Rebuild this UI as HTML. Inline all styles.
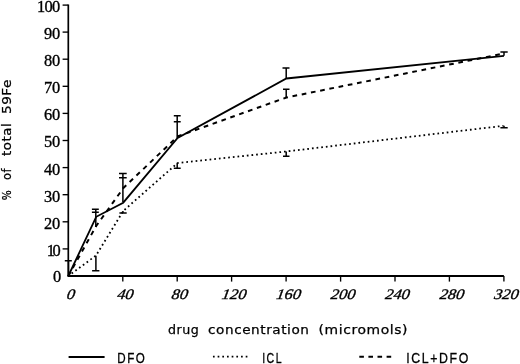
<!DOCTYPE html>
<html><head><meta charset="utf-8"><title>Chart</title>
<style>
html,body{margin:0;padding:0;background:#fff;}
body{width:520px;height:364px;overflow:hidden;}
svg{display:block;}
.ax{stroke:#000;stroke-width:1.8;fill:none;stroke-linejoin:round;}
.tk{stroke:#000;stroke-width:1.35;fill:none;}
.eb{stroke:#000;stroke-width:1.5;fill:none;}
.s{stroke:#000;stroke-width:1.8;fill:none;stroke-linejoin:miter;}
.d{stroke:#000;stroke-width:2;fill:none;stroke-dasharray:4.7 4.7;stroke-dashoffset:0.2;}
.o{stroke:#000;stroke-width:1.8;fill:none;stroke-dasharray:1.7 2.98;stroke-dashoffset:0.57;}
.yl{font-family:"Liberation Serif",serif;font-size:16.4px;fill:#000;stroke:#000;stroke-width:0.35px;}
.xl{font-family:"Liberation Serif",serif;font-style:italic;font-size:14.6px;fill:#000;stroke:#000;stroke-width:0.35px;}
.t{font-family:"DejaVu Sans","Liberation Sans",sans-serif;font-size:12.2px;letter-spacing:0.5px;fill:#000;stroke:#000;stroke-width:0.25px;}
.lg{font-family:"Liberation Sans",sans-serif;font-size:15.5px;letter-spacing:2px;fill:#000;stroke:#000;stroke-width:0.3px;}
</style></head><body>
<svg width="520" height="364" viewBox="0 0 520 364">
<path d="M68.3,4.45 V276.0" class="ax" style="stroke-width:1.7"/>
<path d="M67.45,276.0 H503.9" class="ax" style="stroke-width:2.0"/>
<path d="M62.6,248.9 H68.3" class="tk"/>
<path d="M62.6,221.8 H68.3" class="tk"/>
<path d="M62.6,194.7 H68.3" class="tk"/>
<path d="M62.6,167.6 H68.3" class="tk"/>
<path d="M62.6,140.5 H68.3" class="tk"/>
<path d="M62.6,113.4 H68.3" class="tk"/>
<path d="M62.6,86.3 H68.3" class="tk"/>
<path d="M62.6,59.2 H68.3" class="tk"/>
<path d="M62.6,32.1 H68.3" class="tk"/>
<path d="M62.6,5.1 H68.3" class="tk"/>
<path d="M122.8,276.0 V281.6" class="tk"/>
<path d="M177.2,276.0 V281.6" class="tk"/>
<path d="M231.6,276.0 V281.6" class="tk"/>
<path d="M286.1,276.0 V281.6" class="tk"/>
<path d="M340.6,276.0 V281.6" class="tk"/>
<path d="M395.0,276.0 V281.6" class="tk"/>
<path d="M449.4,276.0 V281.6" class="tk"/>
<path d="M503.9,276.0 V281.6" class="tk"/>
<text x="61.2" y="282.2" class="yl" text-anchor="end">0</text>
<text x="46.7" y="255.8" class="yl" textLength="13.9" lengthAdjust="spacing">10</text>
<text x="60.3" y="228.7" class="yl" text-anchor="end">20</text>
<text x="60.3" y="201.6" class="yl" text-anchor="end">30</text>
<text x="60.3" y="174.5" class="yl" text-anchor="end">40</text>
<text x="60.3" y="147.4" class="yl" text-anchor="end">50</text>
<text x="60.3" y="120.3" class="yl" text-anchor="end">60</text>
<text x="60.3" y="93.2" class="yl" text-anchor="end">70</text>
<text x="60.3" y="66.1" class="yl" text-anchor="end">80</text>
<text x="60.3" y="39.0" class="yl" text-anchor="end">90</text>
<text x="37.1" y="12.0" class="yl" textLength="23.2" lengthAdjust="spacing">100</text>
<text transform="translate(70.3,298.6) skewX(-9) scale(1.12,1)" class="xl" text-anchor="middle">0</text>
<text transform="translate(124.8,298.6) skewX(-9) scale(1.12,1)" class="xl" text-anchor="middle">40</text>
<text transform="translate(179.2,298.6) skewX(-9) scale(1.12,1)" class="xl" text-anchor="middle">80</text>
<text transform="translate(233.6,298.6) skewX(-9) scale(1.12,1)" class="xl" text-anchor="middle">120</text>
<text transform="translate(288.1,298.6) skewX(-9) scale(1.12,1)" class="xl" text-anchor="middle">160</text>
<text transform="translate(342.6,298.6) skewX(-9) scale(1.12,1)" class="xl" text-anchor="middle">200</text>
<text transform="translate(397.0,298.6) skewX(-9) scale(1.12,1)" class="xl" text-anchor="middle">240</text>
<text transform="translate(451.4,298.6) skewX(-9) scale(1.12,1)" class="xl" text-anchor="middle">280</text>
<text transform="translate(505.9,298.6) skewX(-9) scale(1.12,1)" class="xl" text-anchor="middle">320</text>
<polyline points="68.3,276.0 96.2,216.8 123.2,202.7 177.6,138.0 286.4,78.5 504.0,55.8" class="s"/>
<polyline points="68.3,276.0 96.2,226.0 123.4,188.0 177.6,136.4 286.4,97.5 504.0,53.5" class="d"/>
<polyline points="68.3,276.0 96.0,255.5 123.4,210.8 177.6,163.0 286.2,151.5 503.5,125.8" class="o"/>
<path d="M68.5,260.8 V275.5 M64.8,260.8 H71.8" class="eb"/>
<path d="M95.8,209.2 V227 M91.9,209.2 H98.8 M91.9,212.2 H98.8" class="eb"/>
<path d="M95.9,255.7 V270.7 M92.1,270.7 H99.4" class="eb"/>
<path d="M122.9,173.5 V202 M119,173.5 H126.7 M119,177.8 H126.7" class="eb"/>
<path d="M122.9,211 V213 M119.4,213 H126.7" class="eb"/>
<path d="M177.2,115.7 V138 M173.8,115.7 H180.7 M173.8,121.7 H180.7" class="eb"/>
<path d="M177.2,163 V168.3 M173.8,168.3 H180.7" class="eb"/>
<path d="M286.2,68.1 V78.5 M282.5,68.1 H289.5" class="eb"/>
<path d="M286.2,89.2 V97.7 M283,89.2 H289.5" class="eb"/>
<path d="M286.2,151.5 V156.3 M283,156.3 H289.5" class="eb"/>
<path d="M504,51.9 V55.8 M500.4,51.9 H507.7" class="eb"/>
<path d="M504,125.8 V127.8 M500.4,127.8 H507.7" class="eb"/>
<text x="167.90" y="333.8" class="t" textLength="31.30" lengthAdjust="spacingAndGlyphs">drug</text>
<text x="208.10" y="333.8" class="t" textLength="101.40" lengthAdjust="spacingAndGlyphs">concentration</text>
<text x="318.60" y="333.8" class="t" textLength="89.40" lengthAdjust="spacingAndGlyphs">(micromols)</text>
<g transform="translate(10.5,200.5) rotate(-90)"><text x="0.20" y="0" class="t" textLength="10.40" lengthAdjust="spacingAndGlyphs">%</text><text x="20.40" y="0" class="t" textLength="12.00" lengthAdjust="spacingAndGlyphs">of</text><text x="44.50" y="0" class="t" textLength="33.20" lengthAdjust="spacingAndGlyphs">total</text><text x="86.40" y="0" class="t" textLength="35.10" lengthAdjust="spacingAndGlyphs">59Fe</text></g>
<path d="M68.6,356.9 H104.6" class="s" style="stroke-width:2"/>
<path d="M212.95,356.6 H249" class="o" style="stroke-dasharray:1.7 2.98;stroke-dashoffset:0"/>
<path d="M359.3,356.7 H393" class="d" style="stroke-dasharray:4.6 4.5;stroke-dashoffset:0"/>
<text x="117.30" y="362.6" class="lg" textLength="29.00" lengthAdjust="spacingAndGlyphs">DFO</text>
<text x="262.30" y="362.6" class="lg" textLength="20.60" lengthAdjust="spacingAndGlyphs">ICL</text>
<text x="406.30" y="362.6" class="lg" textLength="63.60" lengthAdjust="spacingAndGlyphs">ICL+DFO</text>
</svg>
</body></html>
